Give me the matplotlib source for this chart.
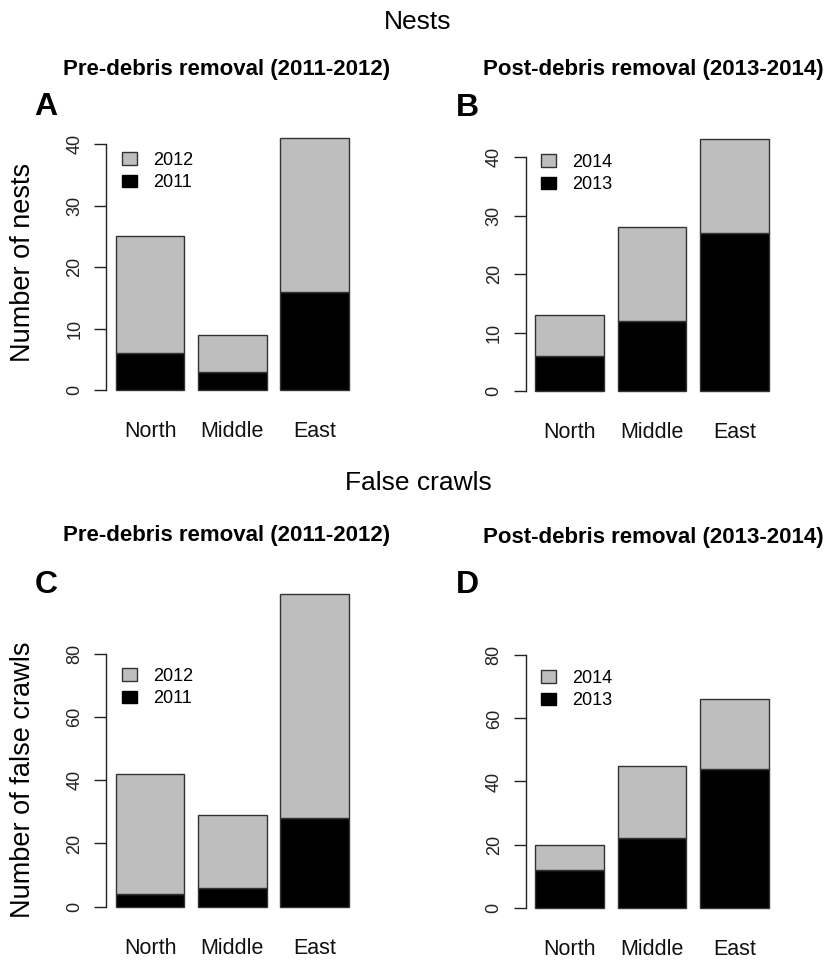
import matplotlib
matplotlib.use("Agg")
import matplotlib.pyplot as plt
from matplotlib.patches import Patch

plt.rcParams['font.family'] = ['Liberation Sans', 'DejaVu Sans']

# --- data ---
sites = ["North", "Middle", "East"]

nests_2011 = [6, 3, 16]
nests_2012 = [19, 6, 25]      # stacked on top of 2011 (totals 25, 9, 41)
nests_2013 = [6, 12, 27]
nests_2014 = [7, 16, 16]      # totals 13, 28, 43

crawls_2011 = [4, 6, 28]
crawls_2012 = [38, 23, 71]    # totals 42, 29, 99
crawls_2013 = [12, 22, 44]
crawls_2014 = [8, 23, 22]     # totals 20, 45, 66

W, H = 835, 964
fig = plt.figure(figsize=(W / 100, H / 100), dpi=100, facecolor='white')

gray = '#bebebe'
edge = '#333333'

# bar centres as in R barplot (width 1, space 0.2)
xpos = [0.7, 1.9, 3.1]
xlim = (0.064, 3.736)


def px_axes(left, right, top, bottom):
    # axes rectangle given in pixels from the top-left corner
    return fig.add_axes([left / W, 1 - bottom / H, (right - left) / W, (bottom - top) / H])


def panel(ax, low, high, lows_lab, highs_lab, yticks, ylim, leg_xy):
    ax.bar(xpos, low, width=1, color='black', edgecolor=edge, linewidth=1, clip_on=False)
    ax.bar(xpos, high, width=1, bottom=low, color=gray, edgecolor=edge, linewidth=1, clip_on=False)
    ax.set_xlim(*xlim)
    ax.set_ylim(*ylim)
    for s in ['top', 'right', 'bottom']:
        ax.spines[s].set_visible(False)
    ax.spines['left'].set_bounds(yticks[0], yticks[-1])
    ax.spines['left'].set_linewidth(1)
    ax.spines['left'].set_color('#222222')
    ax.set_yticks(yticks)
    ax.set_yticklabels([str(t) for t in yticks], rotation=90, va='center', fontsize=13, color='#222222')
    ax.tick_params(axis='y', length=8.5, width=1, pad=8, color='#222222')
    ax.set_xticks(xpos)
    ax.set_xticklabels(sites, fontsize=15.5, color='#111111')
    ax.tick_params(axis='x', length=0, pad=15)
    handles = [Patch(facecolor=gray, edgecolor=edge, label=highs_lab),
               Patch(facecolor='black', edgecolor='black', label=lows_lab)]
    bb = ax.get_position()
    lx = (leg_xy[0] / W - bb.x0) / bb.width
    ly = ((1 - leg_xy[1] / H) - bb.y0) / bb.height
    ax.legend(handles=handles, loc='upper left', bbox_to_anchor=(lx, ly), frameon=False,
              fontsize=13, handlelength=0.85, handleheight=0.7, handletextpad=0.85,
              labelspacing=0.3, borderpad=0, borderaxespad=0)


axA = px_axes(106.4, 358.3, 128.2, 400.0)
panel(axA, nests_2011, nests_2012, '2011', '2012', [0, 10, 20, 30, 40], (-1.64, 42.64), (122, 152))

axB = px_axes(525.6, 778.4, 129.4, 401.4)
panel(axB, nests_2013, nests_2014, '2013', '2014', [0, 10, 20, 30, 40], (-1.72, 44.72), (541, 154))

axC = px_axes(106.4, 358.3, 627.1, 917.5)
panel(axC, crawls_2011, crawls_2012, '2011', '2012', [0, 20, 40, 60, 80], (-3.4, 88.4), (122, 668))

axD = px_axes(525.6, 778.4, 628.8, 918.4)
panel(axD, crawls_2013, crawls_2014, '2013', '2014', [0, 20, 40, 60, 80], (-3.4, 88.4), (541, 670))

# --- titles and labels ---
def ftext(x, y, s, **kw):
    fig.text(x / W, 1 - y / H, s, ha='center', va='center', **kw)

ftext(418, 22, "Nests", fontsize=19)
ftext(418, 483, "False crawls", fontsize=19)

ftext(227, 70, "Pre-debris removal (2011-2012)", fontsize=16, fontweight='bold')
ftext(653, 70, "Post-debris removal (2013-2014)", fontsize=16, fontweight='bold')
ftext(227, 535, "Pre-debris removal (2011-2012)", fontsize=16, fontweight='bold')
ftext(653, 537, "Post-debris removal (2013-2014)", fontsize=16, fontweight='bold')

ftext(46, 107, "A", fontsize=23, fontweight='bold')
ftext(467, 108, "B", fontsize=23, fontweight='bold')
ftext(46, 585, "C", fontsize=23, fontweight='bold')
ftext(467, 585, "D", fontsize=23, fontweight='bold')

ftext(23, 262, "Number of nests", fontsize=19.5, rotation=90)
ftext(23, 780, "Number of false crawls", fontsize=19.5, rotation=90)

plt.savefig("out.png", dpi=100, facecolor='white')
